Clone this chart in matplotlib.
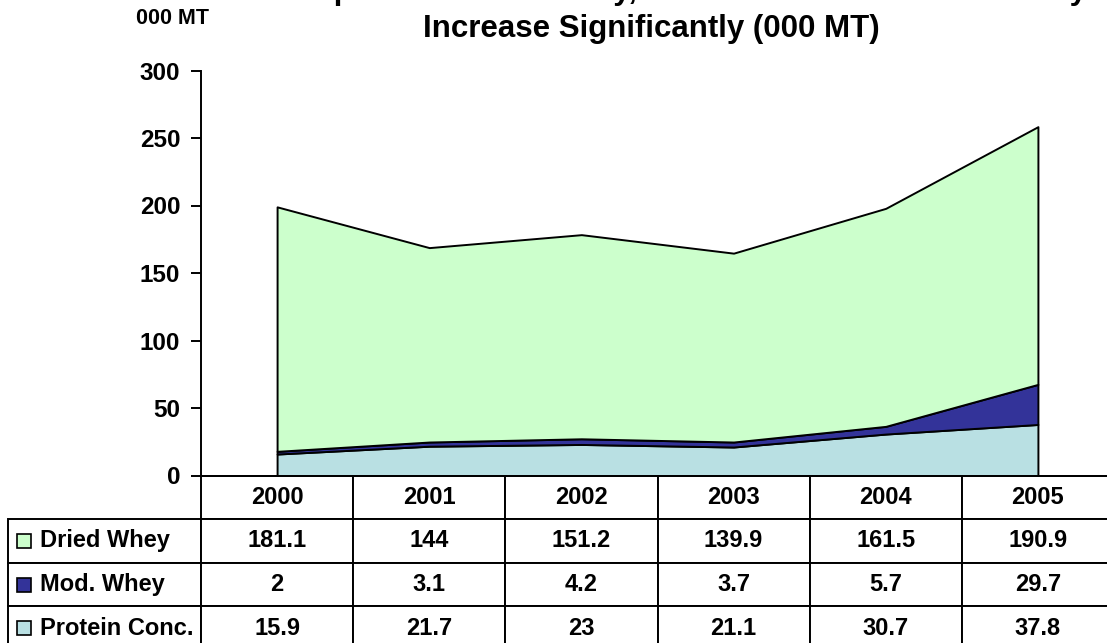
import matplotlib
matplotlib.use("Agg")
import matplotlib.pyplot as plt
from matplotlib.patches import Rectangle

plt.rcParams['font.family'] = ['Liberation Sans', 'DejaVu Sans']
plt.rcParams['font.weight'] = 'bold'

years = ["2000", "2001", "2002", "2003", "2004", "2005"]
dried_whey = [181.1, 144, 151.2, 139.9, 161.5, 190.9]
mod_whey = [2, 3.1, 4.2, 3.7, 5.7, 29.7]
protein_conc = [15.9, 21.7, 23, 21.1, 30.7, 37.8]
series_names = ["Dried Whey", "Mod. Whey", "Protein Conc."]
yticks = [0, 50, 100, 150, 200, 250, 300]

title_line1 = "U.S. Exports of Dried Whey, Protein Conc. and Mod. Whey"
title_line2 = "Increase Significantly (000 MT)"
unit_label = "000 MT"

c_dried = "#CCFFCC"
c_mod = "#333399"
c_prot = "#B9E0E3"

W, H = 1107, 643
fig = plt.figure(figsize=(W / 100, H / 100), dpi=100)
fig.patch.set_facecolor("white")

ax_left, ax_right = 201, 1114
ax_bottom, ax_top = 475.5, 70.5
ax = fig.add_axes([ax_left / W, (H - ax_bottom) / H,
                   (ax_right - ax_left) / W, (ax_bottom - ax_top) / H])

x = list(range(len(years)))
ax.stackplot(x, protein_conc, mod_whey, dried_whey,
             colors=[c_prot, c_mod, c_dried],
             edgecolor="black", linewidth=1.4)

ax.set_xlim(-0.5, len(years) - 0.5)
ax.set_ylim(0, 300)
ax.set_yticks(yticks)
ax.set_yticklabels([str(t) for t in yticks], fontsize=17.5, fontweight="bold")
ax.tick_params(axis="y", direction="out", length=7, width=1.4, pad=8)
ax.set_xticks([])
for s in ["top", "right"]:
    ax.spines[s].set_visible(False)
for s in ["left", "bottom"]:
    ax.spines[s].set_linewidth(1.4)
ax.patch.set_alpha(0)

# data table
axw = ax_right - ax_left
axh = ax_bottom - ax_top
label_w = ax_left - 8
col_w = axw / len(years)
table_bottom = 650
rows = [[series_names[0]] + [f"{v:g}" for v in dried_whey],
        [series_names[1]] + [f"{v:g}" for v in mod_whey],
        [series_names[2]] + [f"{v:g}" for v in protein_conc]]
tbl = ax.table(cellText=rows, colLabels=[""] + years,
               colWidths=[label_w] + [col_w] * len(years),
               cellLoc="center",
               bbox=[-label_w / axw, -(table_bottom - ax_bottom) / axh,
                     (label_w + axw) / axw, (table_bottom - ax_bottom) / axh])
tbl.auto_set_font_size(False)
tbl.set_fontsize(17)
for (r, c), cell in tbl.get_celld().items():
    cell.set_linewidth(1.4)
    cell.get_text().set_fontweight("bold")
    cell.get_text().set_fontsize(17)
    if r == 0 and c == 0:
        cell.visible_edges = ""
    if c == 0 and r > 0:
        cell.get_text().set_ha("left")
        cell._loc = "left"
        cell.PAD = 32 / label_w
    cell.set_clip_on(False)

# legend keys in table row labels
key_colors = [c_dried, c_mod, c_prot]
row_tops = [519.5, 563, 606.5]
row_h = 43.5
for i, col in enumerate(key_colors):
    cy = row_tops[i] + row_h / 2
    sz = 14
    fig.patches.append(Rectangle((17 / W, (H - cy - sz / 2) / H), sz / W, sz / H,
                                 transform=fig.transFigure, facecolor=col,
                                 edgecolor="black", linewidth=1.2, zorder=10))

# titles
fig.text(657 / W, 1 + 1 / H, title_line1, ha="center", va="baseline",
         fontsize=22.5, fontweight="bold")
fig.text(651.5 / W, 1 - 37 / H, title_line2, ha="center", va="baseline",
         fontsize=22.5, fontweight="bold")
fig.text(172 / W, 1 - 24 / H, unit_label, ha="center", va="baseline",
         fontsize=15.5, fontweight="bold")

fig.savefig("out.png", dpi=100, facecolor="white")
